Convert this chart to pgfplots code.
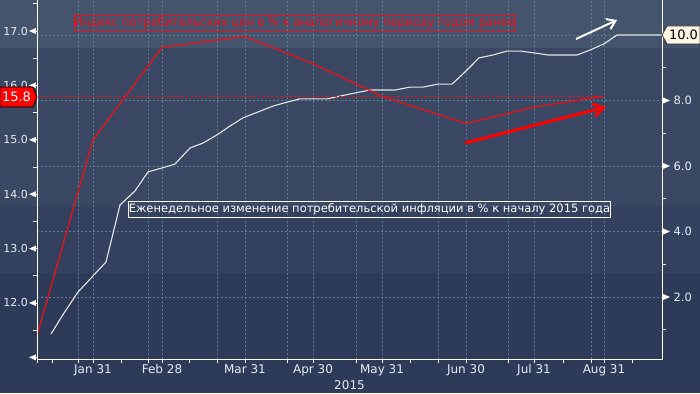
\documentclass[border=0pt]{standalone}
\usepackage{pgfplots}
\pgfplotsset{compat=1.18}
\usepackage{pgfplotstable}
\usetikzlibrary{arrows.meta}
\usepackage{fontspec}
\setmainfont{DejaVu Sans}
\newfontfamily\condfont{DejaVu Sans Condensed}
\definecolor{bgA}{HTML}{45546D}
\definecolor{bgB}{HTML}{3A4864}
\definecolor{bgC}{HTML}{33415E}
\definecolor{bgD}{HTML}{2E3B58}
\definecolor{gridc}{HTML}{5A7D93}
\definecolor{redl}{HTML}{E8101A}
\definecolor{tickc}{HTML}{E4ECF4}
\definecolor{tagc}{HTML}{FFF6E6}
\definecolor{whl}{HTML}{E6E6E6}

\pgfplotstableread{
pos val
37 11.4
93 15.0
162 16.7
245 16.9
313 16.4
382 15.8
466 15.3
534 15.6
604 15.8
}\cpiyoy

\pgfplotstableread{
pos val
51 0.87
64 1.51
78 2.15
106 3.07
120 4.81
135 5.24
148 5.82
162 5.94
175 6.06
190 6.55
203 6.70
217 6.95
230 7.22
243 7.47
258 7.65
273 7.83
287 7.95
300 8.05
327 8.05
350 8.20
370 8.32
395 8.32
410 8.41
423 8.41
438 8.50
452 8.50
465 8.87
479 9.30
493 9.39
507 9.51
520 9.51
535 9.45
548 9.39
577 9.39
590 9.54
604 9.73
617 10.00
662 10.00
}\cpiytd

\begin{document}
\begin{tikzpicture}[x=1pt,y=1pt]
\fill[bgD] (0,0) rectangle (700,120);
\fill[bgC] (0,120) rectangle (700,186);
\fill[bgB] (0,186) rectangle (700,345);
\fill[bgA] (0,345) rectangle (700,393);

% right axis: weekly CPI since start of 2015
\begin{axis}[
  at={(37pt,34pt)}, anchor=south west,
  scale only axis, width=625pt, height=359pt,
  xmin=37, xmax=662, ymin=0.107, ymax=11.069,
  axis x line=bottom, axis y line=right,
  axis line style={draw=none},
  xtick={93,162,245,313,382,466,534,604},
  xticklabels={Jan 31,Feb 28,Mar 31,Apr 30,May 31,Jun 30,Jul 31,Aug 31},
  minor xtick={37,52,121,189,410,563,632},
  extra x ticks={78,148,217,287,356,438,508,591},
  extra x tick labels={},
  extra x tick style={grid=major},
  xmajorgrids=true, ymajorgrids=true,
  major grid style={gridc, dash pattern=on 2pt off 2pt, line width=0.6pt},
  ytick={2,4,6,8,10},
  yticklabels={2.0,4.0,6.0,8.0,},
  minor ytick={1,3,5,7,9},
  tick align=outside,
  major tick length=4pt, minor tick length=4pt,
  tick style={white, line width=0.8pt},
  xticklabel style={font=\fontsize{12}{14}\selectfont, text=tickc, yshift=2pt},
  yticklabel style={font=\fontsize{11.5}{14}\selectfont, text=tickc, xshift=4pt},
  clip=false,
]
\addplot[whl, line width=1.1pt] table[x=pos,y=val]{\cpiytd};
\pgfplotsinvokeforeach{2,4,6,8,10}{
  \fill[white] ([xshift=8pt]axis cs:662,#1) -- ([xshift=1pt,yshift=3pt]axis cs:662,#1) -- ([xshift=1pt,yshift=-3pt]axis cs:662,#1) -- cycle;
}
\node[text=tickc, font=\fontsize{12}{14}\selectfont, yshift=-26pt] at (rel axis cs:0.5,0) {2015};
\end{axis}

% left axis: CPI year over year
\begin{axis}[
  at={(37pt,34pt)}, anchor=south west,
  scale only axis, width=625pt, height=359pt,
  xmin=37, xmax=662, ymin=10.97, ymax=17.57,
  axis x line=none, axis y line=left,
  axis line style={draw=none},
  ytick={11,...,17},
  yticklabels={,12.0,13.0,14.0,15.0,16.0,17.0},
  minor ytick={11.5,12.5,13.5,14.5,15.5,16.5,17.5},
  tick align=outside,
  major tick length=4pt, minor tick length=4pt,
  tick style={white, line width=0.8pt},
  yticklabel style={font=\fontsize{11}{13}\selectfont, text=tickc, xshift=-1.5pt},
  clip=false,
]
\addplot[redl, dash pattern=on 2.5pt off 2pt, line width=0.7pt] coordinates {(37,15.8) (604,15.8)};
\addplot[redl, line width=1.3pt] table[x=pos,y=val]{\cpiyoy};
\pgfplotsinvokeforeach{11,...,17}{
  \fill[white] ([xshift=-8pt]axis cs:37,#1) -- ([xshift=-1pt,yshift=3pt]axis cs:37,#1) -- ([xshift=-1pt,yshift=-3pt]axis cs:37,#1) -- cycle;
}
\end{axis}

% axis lines
\draw[white, line width=1pt] (37,393) -- (37,34) -- (662,34) -- (662,393);

% annotation boxes
\node[draw=redl, text=redl, line width=0.8pt, inner sep=0pt, minimum width=437pt, minimum height=17pt, font=\condfont\fontsize{12.8}{14}\selectfont] at (294.5,370.5) {Индекс потребительских цен в \% к аналогичному периоду годом ранее};
\node[draw=white, text=white, line width=0.8pt, inner sep=0pt, minimum width=473pt, minimum height=16pt, font=\fontsize{11.5}{13}\selectfont] at (369.5,184) {Еженедельное изменение потребительской инфляции в \% к началу 2015 года};

% arrows
\draw[white, line width=2pt, -{Straight Barb[length=8pt,width=11pt]}] (576,354) -- (617,373);
\draw[red, line width=3pt, -{Straight Barb[length=10pt,width=13pt]}] (465,250) -- (606,286);

% value tags
\filldraw[fill=red, draw=black, line width=0.8pt] (0,306) -- (33,306) -- (37,296) -- (33,286) -- (0,286) -- cycle;
\node[text=white, font=\fontsize{13}{15}\selectfont] at (16.5,296) {15.8};
\filldraw[fill=tagc, draw=black!80, line width=0.8pt] (662,358) -- (667,367) -- (700,367) -- (700,349) -- (667,349) -- cycle;
\node[text=black, font=\fontsize{13}{15}\selectfont] at (683.5,358) {10.0};

\pgfresetboundingbox
\path (0,0) rectangle (700,393);
\end{tikzpicture}
\end{document}
